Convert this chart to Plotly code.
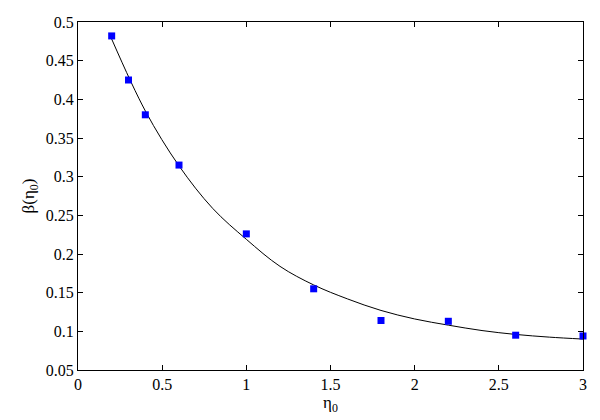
import plotly.graph_objects as go

# measured points
eta_pts = [0.2, 0.3, 0.4, 0.6, 1.0, 1.4, 1.8, 2.2, 2.6, 3.0]
beta_pts = [0.482, 0.425, 0.380, 0.315, 0.226, 0.155, 0.114, 0.113, 0.095, 0.094]

# fitted curve
eta_fit = [0.2, 0.4, 0.6, 0.8, 1.0, 1.2, 1.4, 1.6, 1.8, 2.0, 2.2, 2.4, 2.6, 2.8, 3.0]
beta_fit = [0.478, 0.385, 0.314, 0.259, 0.219, 0.184, 0.160, 0.142, 0.127,
            0.116, 0.108, 0.101, 0.096, 0.0925, 0.090]

x_ticks = [0, 0.5, 1, 1.5, 2, 2.5, 3]
x_labels = ["0", "0.5", "1", "1.5", "2", "2.5", "3"]
y_ticks = [0.05, 0.1, 0.15, 0.2, 0.25, 0.3, 0.35, 0.4, 0.45, 0.5]
y_labels = ["0.05", "0.1", "0.15", "0.2", "0.25", "0.3", "0.35", "0.4", "0.45", "0.5"]

font = "Liberation Serif, Times New Roman, serif"

fig = go.Figure()

fig.add_trace(
    go.Scatter(
        x=eta_fit,
        y=beta_fit,
        mode="lines",
        line=dict(color="black", width=1, shape="spline"),
        showlegend=False
    )
)

fig.add_trace(
    go.Scatter(
        x=eta_pts,
        y=beta_pts,
        mode="markers",
        marker=dict(symbol="square", size=7, color="#0000FF"),
        cliponaxis=False,
        showlegend=False
    )
)

axis_style = dict(
    showline=True,
    linecolor="black",
    linewidth=1,
    mirror="ticks",
    ticks="inside",
    ticklen=5,
    tickcolor="black",
    showgrid=False,
    zeroline=False,
    ticklabeloverflow="allow",
    tickfont=dict(family=font, size=16, color="black"),
)

fig.update_xaxes(
    range=[0, 3],
    tickvals=x_ticks,
    ticktext=x_labels,
    title=dict(text="η<sub>0</sub>", font=dict(family=font, size=17, color="black"), standoff=2),
    **axis_style
)
fig.update_yaxes(
    range=[0.05, 0.5],
    tickvals=y_ticks,
    ticktext=y_labels,
    title=dict(text="β(η<sub>0</sub>)", font=dict(family=font, size=17, color="black"), standoff=6),
    **axis_style
)

# page body adds 8px around the figure
fig.update_layout(
    width=592,
    height=412,
    margin=dict(l=70, r=17, t=6, b=50),
    plot_bgcolor="white",
    paper_bgcolor="white",
    font=dict(family=font),
)

fig.write_html("out.html")
